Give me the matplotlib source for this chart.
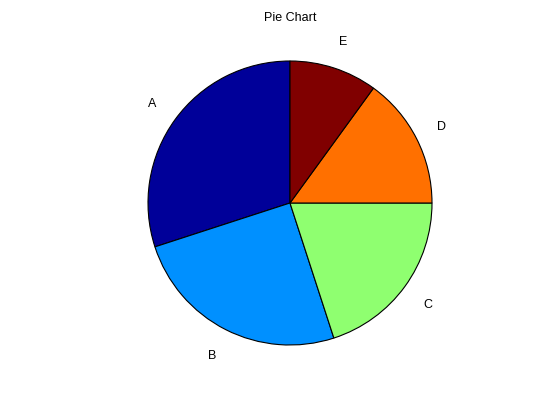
import matplotlib
matplotlib.use('Agg')
import matplotlib.pyplot as plt

# slice data
labels = ['A', 'B', 'C', 'D', 'E']
values = [30, 25, 20, 15, 10]
colors = ['#000099', '#0090FF', '#8FFF70', '#FF7000', '#800000']

plt.rcParams['font.family'] = ['Liberation Sans', 'DejaVu Sans']

fig = plt.figure(figsize=(5.6, 4.2), dpi=100)
fig.patch.set_facecolor('white')

# axes box chosen so the pie sits where it does in the reference
ax = fig.add_axes([148 / 560, 75 / 420, 284 / 560, 284 / 420])
wedges, texts = ax.pie(values, labels=labels, colors=colors, startangle=90,
                       counterclock=True, labeldistance=1.2,
                       wedgeprops=dict(edgecolor='black', linewidth=0.8),
                       textprops=dict(fontsize=9))
for t in texts:
    t.set_ha('center')
    t.set_va('center_baseline')
    t.set_clip_on(False)
ax.set_xlim(-1, 1)
ax.set_ylim(-1, 1)
ax.axis('off')

fig.text(290 / 560, 1 - 18 / 420, 'Pie Chart', ha='center', va='center', fontsize=9)

fig.savefig('out.png', dpi=100)
